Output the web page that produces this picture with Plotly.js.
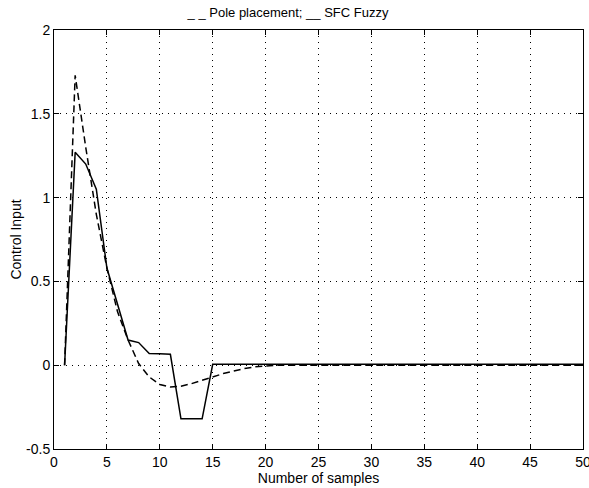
<!DOCTYPE html>
<html>
<head>
<meta charset="utf-8">
<script src="https://cdn.plot.ly/plotly-3.0.1.min.js"></script>
<style>html,body{margin:0;padding:0;background:#fff;}#chart{width:589px;height:488px;}</style>
</head>
<body>
<div id="chart"></div>
<script>
// samples
const samples = [];
for (let k = 1; k <= 50; k++) samples.push(k);

// Pole placement (dashed)
const polePlacement = [0, 1.73, 1.3, 0.9, 0.58, 0.32, 0.15, 0.01, -0.07, -0.115, -0.13, -0.125, -0.11, -0.09, -0.07, -0.05, -0.035, -0.02, -0.01, -0.003,
  0, 0, 0, 0, 0, 0, 0, 0, 0, 0, 0, 0, 0, 0, 0, 0, 0, 0, 0, 0, 0, 0, 0, 0, 0, 0, 0, 0, 0, 0];

// SFC Fuzzy (solid)
const sfcFuzzy = [0, 1.27, 1.2, 1.05, 0.58, 0.37, 0.15, 0.135, 0.07, 0.068, 0.065, -0.32, -0.32, -0.32, 0.005, 0.005, 0.005, 0.005, 0.005, 0.005,
  0.005, 0.005, 0.005, 0.005, 0.005, 0.005, 0.005, 0.005, 0.005, 0.005, 0.005, 0.005, 0.005, 0.005, 0.005, 0.005, 0.005, 0.006, 0.007, 0.007, 0.006, 0.005, 0.005, 0.005, 0.005, 0.005, 0.005, 0.005, 0.005, 0.005];

const xTicks = [0, 5, 10, 15, 20, 25, 30, 35, 40, 45, 50];
const yTicks = [-0.5, 0, 0.5, 1, 1.5, 2];
const yTickLabels = ['-0.5', '0', '0.5', '1', '1.5', '2'];

const fam = 'Liberation Sans, Arial, sans-serif';
const tickFont = {family: fam, size: 14, color: '#000'};
const labelFont = {family: fam, size: 14, color: '#000'};

const traces = [
  {x: samples, y: polePlacement, mode: 'lines', name: 'Pole placement',
   line: {color: '#000', width: 1.5, dash: '7px,4px'}},
  {x: samples, y: sfcFuzzy, mode: 'lines', name: 'SFC Fuzzy',
   line: {color: '#000', width: 1.5}},
  // invisible trace to activate the overlay axes carrying the inside tick marks
  {x: [0], y: [0], xaxis: 'x2', yaxis: 'y2', mode: 'markers', marker: {opacity: 0}, hoverinfo: 'skip', showlegend: false}
];

const gridCommon = {
  showgrid: true, gridcolor: '#000', gridwidth: 1, griddash: '1px,5px', zeroline: false
};

const layout = {
  width: 589, height: 488,
  margin: {l: 54, r: 6, t: 30, b: 39},
  paper_bgcolor: '#fff', plot_bgcolor: '#fff',
  showlegend: false,
  title: {text: '_ _ Pole placement; __ SFC Fuzzy', font: {family: fam, size: 13, color: '#000'},
          x: 0.489, xref: 'container', xanchor: 'center', y: 0.974, yref: 'container', yanchor: 'middle'},
  xaxis: Object.assign({}, gridCommon, {
    range: [0, 50], tickvals: xTicks, ticktext: xTicks.map(String),
    showline: true, linecolor: '#000', linewidth: 1, mirror: true,
    ticks: 'outside', ticklen: 0, tickfont: tickFont, ticklabeloverflow: 'allow',
    automargin: false,
    title: {text: 'Number of samples', font: labelFont, standoff: 4}
  }),
  yaxis: Object.assign({}, gridCommon, {
    range: [-0.5, 2], tickvals: yTicks, ticktext: yTickLabels,
    showline: true, linecolor: '#000', linewidth: 1, mirror: true,
    ticks: 'outside', ticklen: 0, tickfont: tickFont, ticklabeloverflow: 'allow',
    automargin: false,
    title: {text: 'Control Input', font: labelFont, standoff: 1}
  }),
  xaxis2: {
    overlaying: 'x', anchor: 'y2', range: [0, 50], tickvals: xTicks,
    showticklabels: false, showgrid: false, zeroline: false,
    ticks: 'inside', ticklen: 5, tickcolor: '#000', tickwidth: 1, mirror: 'ticks', showline: false
  },
  yaxis2: {
    overlaying: 'y', anchor: 'x2', range: [-0.5, 2], tickvals: yTicks,
    showticklabels: false, showgrid: false, zeroline: false,
    ticks: 'inside', ticklen: 5, tickcolor: '#000', tickwidth: 1, mirror: 'ticks', showline: false
  }
};

Plotly.newPlot('chart', traces, layout, {displayModeBar: false, staticPlot: true});
</script>
</body>
</html>
